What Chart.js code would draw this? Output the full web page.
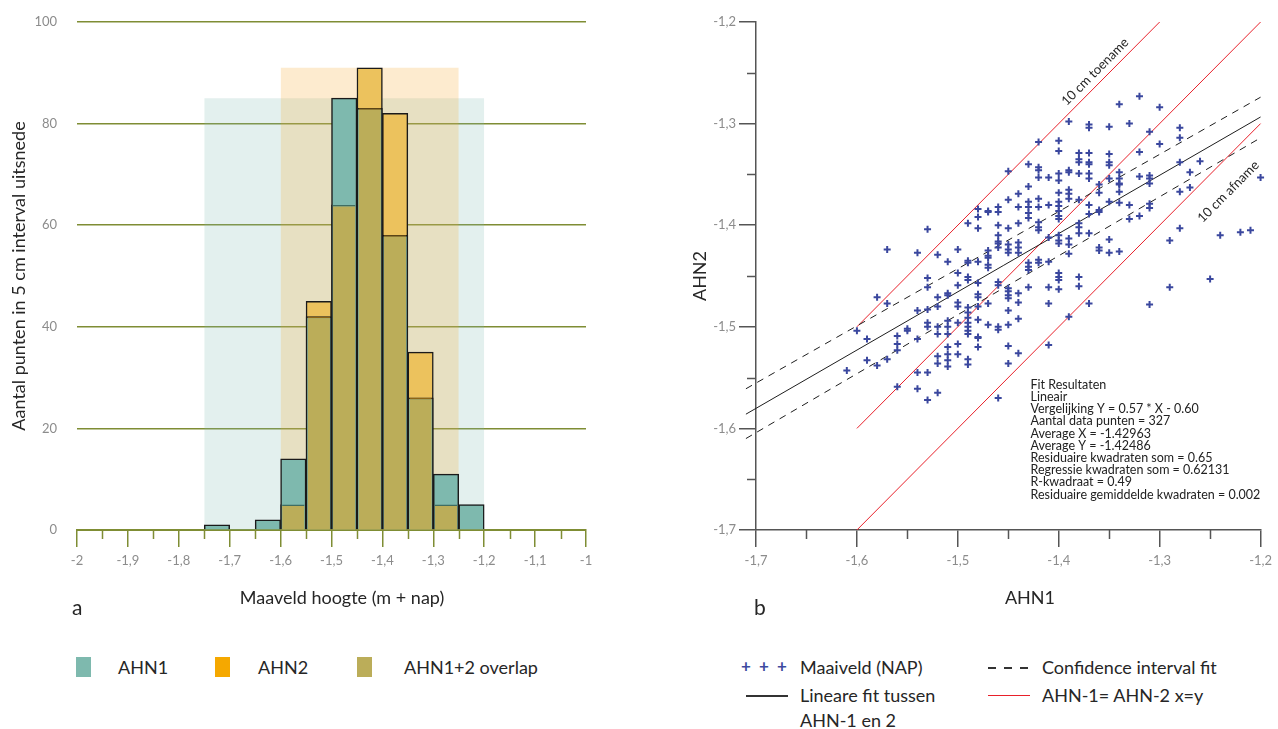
<!DOCTYPE html>
<html>
<head>
<meta charset="utf-8">
<script src="https://cdn.jsdelivr.net/npm/chart.js@4"></script>
<style>
  body { margin: 0; background: #fff; font-family: Lato, "Open Sans", sans-serif; color: #262626; }
  #wrap { position: relative; width: 1278px; height: 729px; overflow: hidden; }
  canvas { position: absolute; top: 0; }
  .t { position: absolute; font-size: 18px; line-height: 20px; white-space: nowrap; }
  .sw { position: absolute; width: 15px; height: 20px; }
  .ln { position: absolute; width: 42px; height: 1.5px; }
  .panel { position: absolute; font-size: 21px; line-height: 24px; }
  .ax { position: absolute; font-size: 18px; line-height: 20px; white-space: nowrap; transform: translateX(-50%); }
</style>
</head>
<body>
<div id="wrap">
  <canvas id="hist" width="620" height="640" style="left:0"></canvas>
  <canvas id="scat" width="638" height="640" style="left:640px"></canvas>

  <div class="ax" style="left:342px;top:587px">Maaveld hoogte (m + nap)</div>
  <div class="ax" style="left:1030px;top:587px">AHN1</div>
  <div class="panel" style="left:72px;top:595px">a</div>
  <div class="panel" style="left:754px;top:595px">b</div>

  <div class="sw" style="left:76px;top:657px;background:#7eb9ae"></div>
  <div class="t" style="left:118px;top:657px">AHN1</div>
  <div class="sw" style="left:215px;top:657px;background:#f5a800"></div>
  <div class="t" style="left:258px;top:657px">AHN2</div>
  <div class="sw" style="left:357px;top:657px;background:#bbad59"></div>
  <div class="t" style="left:404px;top:657px">AHN1+2 overlap</div>

  <div class="t" style="left:741px;top:656px;color:#3d4aa0;font-weight:bold;letter-spacing:2px;font-size:17px">+ + +</div>
  <div class="t" style="left:800px;top:657px">Maaiveld (NAP)</div>
  <div class="ln" style="left:988px;top:667px;background:repeating-linear-gradient(90deg,#333 0 8px,transparent 8px 16px)"></div>
  <div class="t" style="left:1042px;top:657px">Confidence interval fit</div>
  <div class="ln" style="left:746px;top:695px;background:#333"></div>
  <div class="t" style="left:800px;top:685px">Lineare fit tussen</div>
  <div class="t" style="left:800px;top:710px">AHN-1 en 2</div>
  <div class="ln" style="left:988px;top:695px;background:#e8202a;height:1px"></div>
  <div class="t" style="left:1042px;top:685px">AHN-1= AHN-2 x=y</div>
</div>

<script>
// ---- panel a: counts per 5 cm bin (lower edge of bin) ----
const binStart = [-1.75, -1.70, -1.65, -1.60, -1.55, -1.50, -1.45, -1.40, -1.35, -1.30, -1.25];
const ahn1Counts = [1, 0, 2, 14, 42, 85, 83, 58, 26, 11, 5];
const ahn2Counts = [0, 0, 0, 5, 45, 64, 91, 82, 35, 5, 0];
const binWidth = 0.05;

// ---- panel b: maaiveld AHN1 (x) vs AHN2 (y) ----
const maaiveld = [
  [-1.71,-1.502],[-1.60,-1.504],[-1.59,-1.512],[-1.59,-1.533],[-1.61,-1.543],
  [-1.48,-1.384],[-1.48,-1.392],[-1.48,-1.403],[-1.47,-1.386],[-1.49,-1.398],[-1.53,-1.404],
  [-1.57,-1.424],[-1.54,-1.427],[-1.52,-1.429],[-1.50,-1.424],[-1.51,-1.436],[-1.49,-1.435],
  [-1.49,-1.437],[-1.48,-1.436],[-1.47,-1.425],[-1.47,-1.432],[-1.47,-1.439],[-1.47,-1.442],
  [-1.50,-1.447],[-1.53,-1.452],[-1.53,-1.461],[-1.49,-1.451],[-1.49,-1.454],[-1.50,-1.459],
  [-1.51,-1.467],[-1.51,-1.469],[-1.48,-1.457],[-1.48,-1.468],[-1.48,-1.471],[-1.58,-1.471],
  [-1.57,-1.477],[-1.52,-1.471],[-1.52,-1.480],[-1.50,-1.476],[-1.50,-1.480],[-1.54,-1.484],
  [-1.53,-1.483],[-1.53,-1.496],[-1.53,-1.500],[-1.52,-1.500],[-1.52,-1.507],[-1.51,-1.494],
  [-1.51,-1.500],[-1.51,-1.507],[-1.49,-1.481],[-1.49,-1.486],[-1.49,-1.491],[-1.49,-1.496],
  [-1.49,-1.500],[-1.49,-1.504],[-1.49,-1.507],[-1.48,-1.480],[-1.48,-1.493],[-1.48,-1.510],
  [-1.48,-1.511],[-1.48,-1.520],[-1.47,-1.477],[-1.47,-1.498],[-1.50,-1.496],[-1.55,-1.502],
  [-1.55,-1.504],[-1.56,-1.509],[-1.56,-1.517],[-1.56,-1.523],[-1.54,-1.512],[-1.57,-1.532],
  [-1.58,-1.538],[-1.51,-1.520],[-1.51,-1.527],[-1.50,-1.517],[-1.50,-1.527],[-1.52,-1.529],
  [-1.52,-1.536],[-1.51,-1.533],[-1.51,-1.539],[-1.49,-1.532],[-1.49,-1.537],[-1.56,-1.559],
  [-1.54,-1.545],[-1.53,-1.545],[-1.54,-1.561],[-1.53,-1.572],[-1.52,-1.565],
  [-1.39,-1.298],[-1.37,-1.301],[-1.37,-1.304],[-1.42,-1.318],[-1.40,-1.317],[-1.40,-1.327],
  [-1.38,-1.329],[-1.38,-1.335],[-1.38,-1.338],[-1.37,-1.329],[-1.37,-1.338],[-1.37,-1.340],
  [-1.37,-1.349],[-1.45,-1.347],[-1.43,-1.340],[-1.42,-1.343],[-1.42,-1.346],[-1.42,-1.353],
  [-1.41,-1.353],[-1.40,-1.349],[-1.40,-1.356],[-1.40,-1.368],[-1.39,-1.346],[-1.39,-1.348],
  [-1.38,-1.349],[-1.43,-1.362],[-1.44,-1.369],[-1.45,-1.375],[-1.47,-1.387],[-1.46,-1.382],
  [-1.46,-1.387],[-1.44,-1.382],[-1.43,-1.377],[-1.43,-1.382],[-1.43,-1.388],[-1.43,-1.393],
  [-1.42,-1.374],[-1.42,-1.382],[-1.41,-1.380],[-1.40,-1.377],[-1.40,-1.381],[-1.40,-1.386],
  [-1.40,-1.391],[-1.40,-1.394],[-1.39,-1.365],[-1.39,-1.369],[-1.39,-1.374],[-1.38,-1.375],
  [-1.38,-1.398],[-1.38,-1.402],[-1.38,-1.408],[-1.37,-1.380],[-1.37,-1.408],[-1.46,-1.400],
  [-1.46,-1.410],[-1.45,-1.403],[-1.44,-1.398],[-1.42,-1.397],[-1.42,-1.402],[-1.42,-1.405],
  [-1.46,-1.416],[-1.46,-1.418],[-1.46,-1.422],[-1.45,-1.419],[-1.45,-1.424],[-1.45,-1.427],
  [-1.44,-1.417],[-1.44,-1.422],[-1.44,-1.427],[-1.47,-1.430],[-1.41,-1.412],[-1.40,-1.410],
  [-1.40,-1.415],[-1.40,-1.418],[-1.39,-1.413],[-1.39,-1.419],[-1.39,-1.428],
  [-1.46,-1.456],[-1.46,-1.459],[-1.45,-1.462],[-1.45,-1.465],[-1.45,-1.469],[-1.45,-1.472],
  [-1.44,-1.467],[-1.44,-1.476],[-1.43,-1.461],[-1.42,-1.437],[-1.42,-1.434],[-1.41,-1.436],
  [-1.41,-1.461],[-1.41,-1.477],[-1.40,-1.447],[-1.40,-1.451],[-1.40,-1.454],[-1.40,-1.463],
  [-1.38,-1.451],[-1.38,-1.460],[-1.37,-1.477],[-1.45,-1.484],[-1.44,-1.492],[-1.46,-1.500],
  [-1.46,-1.503],[-1.45,-1.498],[-1.39,-1.490],[-1.41,-1.518],[-1.45,-1.519],[-1.44,-1.526],
  [-1.45,-1.536],[-1.46,-1.570],[-1.43,-1.437],[-1.43,-1.441],[-1.43,-1.444],
  [-1.32,-1.273],[-1.34,-1.281],[-1.30,-1.284],[-1.35,-1.303],[-1.33,-1.300],[-1.31,-1.308],
  [-1.28,-1.304],[-1.28,-1.314],[-1.30,-1.320],[-1.32,-1.328],[-1.35,-1.330],[-1.35,-1.338],
  [-1.35,-1.341],[-1.28,-1.338],[-1.26,-1.337],[-1.34,-1.348],[-1.34,-1.354],[-1.34,-1.359],
  [-1.34,-1.360],[-1.34,-1.367],[-1.32,-1.352],[-1.31,-1.351],[-1.31,-1.354],[-1.31,-1.359],
  [-1.27,-1.348],[-1.36,-1.360],[-1.36,-1.368],[-1.35,-1.354],[-1.28,-1.367],[-1.27,-1.363],
  [-1.20,-1.353],[-1.36,-1.385],[-1.36,-1.387],[-1.35,-1.377],[-1.34,-1.378],[-1.33,-1.380],
  [-1.31,-1.379],[-1.31,-1.383],[-1.33,-1.394],[-1.32,-1.391],[-1.24,-1.410],[-1.28,-1.403],
  [-1.29,-1.415],[-1.22,-1.407],[-1.21,-1.405],[-1.35,-1.414],[-1.36,-1.422],[-1.36,-1.425],
  [-1.35,-1.427],[-1.34,-1.426],[-1.37,-1.354],[-1.37,-1.389],
  [-1.31,-1.478],[-1.29,-1.461],[-1.25,-1.453]
];
const fitLine = [[-1.71, -1.586], [-1.20, -1.2935]];
const confUpper = [[-1.71, -1.561], [-1.20, -1.274]];
const confLower = [[-1.71, -1.610], [-1.20, -1.314]];
const lineXY = [[-1.6, -1.6], [-1.2, -1.2]];
const linePlus10 = [[-1.6, -1.5], [-1.3, -1.2]];
const lineMin10 = [[-1.6, -1.7], [-1.2, -1.3]];
const fitResults = [
  'Fit Resultaten',
  'Lineair',
  'Vergelijking Y = 0.57 * X - 0.60',
  'Aantal data punten = 327',
  'Average X = -1.42963',
  'Average Y = -1.42486',
  'Residuaire kwadraten som = 0.65',
  'Regressie kwadraten som = 0.62131',
  'R-kwadraat = 0.49',
  'Residuaire gemiddelde kwadraten = 0.002'
];

const FONT = 'Lato, "Open Sans", sans-serif';
const olive = '#7f8d34';
const tickFont = { family: FONT, size: 13 };
const tickGrey = '#8c8c8c';
const fmt = v => String(Math.round(v * 10) / 10).replace('.', ',');
const toXY = arr => arr.map(p => ({ x: p[0], y: p[1] }));

// short ticks halfway between the labelled ones
const minorTicks = {
  id: 'minorTicks',
  afterDraw(chart, args, opts) {
    const { ctx, chartArea } = chart;
    ctx.save();
    ctx.strokeStyle = opts.color;
    ctx.lineWidth = opts.width;
    ctx.beginPath();
    opts.axes.forEach(id => {
      const s = chart.scales[id];
      const step = s.options.ticks.stepSize / 2;
      for (let k = 1; s.min + k * step < s.max - 1e-9; k += 2) {
        const p = Math.round(s.getPixelForValue(s.min + k * step)) + 0.5;
        if (s.isHorizontal()) {
          ctx.moveTo(p, chartArea.bottom);
          ctx.lineTo(p, chartArea.bottom + opts.len);
        } else {
          ctx.moveTo(chartArea.left, p);
          ctx.lineTo(chartArea.left - opts.len, p);
        }
      }
    });
    ctx.stroke();
    ctx.restore();
  }
};

// ---------- panel a ----------
const overlapCounts = ahn1Counts.map((v, i) => Math.min(v, ahn2Counts[i]));
const bars = counts => counts.map((v, i) => ({ x: binStart[i] + binWidth / 2, y: v || null }));

function rangeBox(counts) {
  const used = binStart.filter((b, i) => counts[i] > 0);
  const top = Math.max(...counts);
  return [{ x: used[0], y: top }, { x: used[used.length - 1] + binWidth, y: top }];
}

new Chart(document.getElementById('hist'), {
  type: 'bar',
  plugins: [minorTicks],
  data: {
    datasets: [
      {
        label: 'AHN1+2 overlap', data: bars(overlapCounts), order: 1,
        backgroundColor: '#bbad59',
        borderColor: c => ahn1Counts[c.dataIndex] > ahn2Counts[c.dataIndex] ? '#3f6d62'
          : (ahn2Counts[c.dataIndex] > ahn1Counts[c.dataIndex] ? '#8c6516' : '#1c1c1c'),
        borderWidth: { top: 1.5, left: 0, right: 0, bottom: 0 },
        barPercentage: 0.88, categoryPercentage: 1, grouped: false
      },
      {
        label: 'AHN1', data: bars(ahn1Counts), order: 3,
        backgroundColor: '#7eb9ae', borderColor: '#1a1a1a', borderWidth: 1.5,
        barPercentage: 1, categoryPercentage: 1, grouped: false
      },
      {
        label: 'AHN2', data: bars(ahn2Counts), order: 4,
        backgroundColor: '#ecc25d', borderColor: '#1a1a1a', borderWidth: 1.5,
        barPercentage: 1, categoryPercentage: 1, grouped: false
      },
      {
        type: 'line', label: 'bereik AHN2', data: rangeBox(ahn2Counts), order: 8,
        fill: 'origin', backgroundColor: 'rgba(245,166,35,0.22)', borderWidth: 0, pointRadius: 0
      },
      {
        type: 'line', label: 'bereik AHN1', data: rangeBox(ahn1Counts), order: 9,
        fill: 'origin', backgroundColor: 'rgba(127,186,176,0.22)', borderWidth: 0, pointRadius: 0
      }
    ]
  },
  options: {
    responsive: false,
    animation: false,
    events: [],
    layout: { padding: { left: 0, right: 34, top: 22, bottom: 20 } },
    plugins: {
      legend: { display: false },
      tooltip: { enabled: false },
      minorTicks: { axes: ['x'], color: olive, width: 1.5, len: 9 }
    },
    scales: {
      x: {
        type: 'linear', min: -2, max: -1, offset: false,
        afterFit: s => { s.height = 90; },
        ticks: { stepSize: 0.1, callback: fmt, font: tickFont, color: tickGrey, padding: 6, maxRotation: 0 },
        grid: { drawOnChartArea: false, offset: false, tickLength: 17, color: olive, lineWidth: 1.5 },
        border: { color: olive, width: 2 }
      },
      y: {
        min: 0, max: 100,
        // the label padding would otherwise push the plot area down
        afterFit: s => { s.width = 77; s.paddingTop = 0; s.paddingBottom = 0; },
        ticks: { stepSize: 20, font: tickFont, color: tickGrey, padding: 20 },
        grid: { drawTicks: false, color: olive, lineWidth: 1.5 },
        border: { display: false },
        title: {
          display: true, text: 'Aantal punten in 5 cm interval uitsnede', color: '#262626',
          font: { family: FONT, size: 18 }, padding: { top: 8, bottom: 0 }
        }
      }
    }
  }
});

// ---------- panel b ----------
const scatterNotes = {
  id: 'scatterNotes',
  afterDatasetsDraw(chart, args, opts) {
    const { ctx, scales: { x, y } } = chart;
    ctx.save();
    ctx.fillStyle = '#262626';
    ctx.textAlign = 'center';
    ctx.textBaseline = 'middle';
    ctx.font = '13px ' + FONT;
    const ang = Math.atan2(y.getPixelForValue(lineXY[1][1]) - y.getPixelForValue(lineXY[0][1]),
                           x.getPixelForValue(lineXY[1][0]) - x.getPixelForValue(lineXY[0][0]));
    opts.notes.forEach(n => {
      ctx.save();
      ctx.translate(x.getPixelForValue(n.x), y.getPixelForValue(n.y));
      ctx.rotate(ang);
      ctx.fillText(n.text, 0, 0);
      ctx.restore();
    });
    ctx.textAlign = 'left';
    ctx.fillStyle = '#222';
    ctx.font = '12.5px ' + FONT;
    const bx = x.getPixelForValue(opts.block.x);
    const by = y.getPixelForValue(opts.block.y);
    fitResults.forEach((line, i) => ctx.fillText(line, bx, by + i * opts.block.lineHeight));
    ctx.restore();
  }
};

const lineSet = (label, pts, color, dash) => ({
  label, data: toXY(pts), showLine: true, borderColor: color, borderWidth: 1,
  borderDash: dash || [], pointRadius: 0, clip: false
});

new Chart(document.getElementById('scat'), {
  type: 'scatter',
  plugins: [minorTicks, scatterNotes],
  data: {
    datasets: [
      {
        label: 'Maaiveld (NAP)', data: toXY(maaiveld), clip: false,
        pointStyle: 'cross', pointRadius: 3.5, borderWidth: 2,
        borderColor: '#3a479e', backgroundColor: '#3a479e'
      },
      lineSet('Lineare fit', fitLine, '#1e1e1e'),
      lineSet('Confidence boven', confUpper, '#1e1e1e', [7, 6]),
      lineSet('Confidence onder', confLower, '#1e1e1e', [7, 6]),
      lineSet('x=y', lineXY, '#e8202a'),
      lineSet('10 cm toename', linePlus10, '#e8202a'),
      lineSet('10 cm afname', lineMin10, '#e8202a')
    ]
  },
  options: {
    responsive: false,
    animation: false,
    events: [],
    layout: { padding: { left: 0, right: 13, top: 22, bottom: 20 } },
    plugins: {
      legend: { display: false },
      tooltip: { enabled: false },
      minorTicks: { axes: ['x', 'y'], color: '#555', width: 1.5, len: 9 },
      scatterNotes: {
        notes: [
          { x: -1.364, y: -1.249, text: '10 cm toename' },
          { x: -1.232, y: -1.367, text: '10 cm afname' }
        ],
        block: { x: -1.428, y: -1.557, lineHeight: 12.2 }
      }
    },
    scales: {
      x: {
        type: 'linear', min: -1.7, max: -1.2,
        afterFit: s => { s.height = 90; },
        ticks: { stepSize: 0.1, callback: fmt, font: tickFont, color: tickGrey, padding: 6, maxRotation: 0 },
        grid: { drawOnChartArea: false, tickLength: 17, color: '#555', lineWidth: 1.5 },
        border: { color: '#555', width: 1.5 }
      },
      y: {
        type: 'linear', min: -1.7, max: -1.2,
        afterFit: s => { s.width = 116; },
        ticks: { stepSize: 0.1, callback: fmt, font: tickFont, color: tickGrey, padding: 3 },
        grid: { drawOnChartArea: false, tickLength: 17, color: '#555', lineWidth: 1.5 },
        border: { color: '#555', width: 1.5 },
        title: {
          display: true, text: 'AHN2', color: '#262626',
          font: { family: FONT, size: 18 }, padding: { top: 49, bottom: 0 }
        }
      }
    }
  }
});
</script>
</body>
</html>
